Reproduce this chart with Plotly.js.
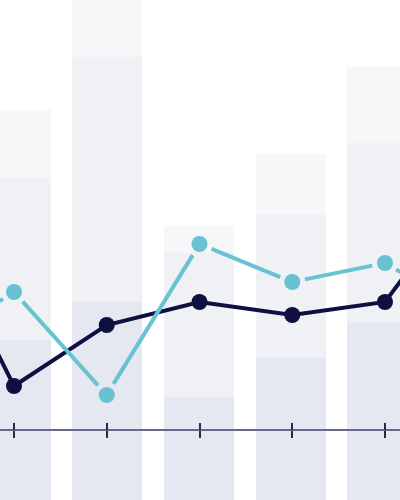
<!DOCTYPE html>
<html>
<head>
<meta charset="utf-8">
<script src="https://cdn.plot.ly/plotly-3.0.1.min.js"></script>
<style>html,body{margin:0;padding:0;background:#fff;}#chart{width:400px;height:500px;}</style>
</head>
<body>
<div id="chart"></div>
<script>
// ---- data ----
const barCats = [0, 1, 2, 3, 4];
const barBottom = [32.0, 39.6, 20.6, 28.4, 35.4];
const barMiddle = [32.4, 49.0, 29.0, 28.8, 36.0];
const barTop = [13.6, 16.0, 5.2, 12.0, 15.2];

const lineCats = [-1, 0, 1, 2, 3, 4, 5];
const darkSeries = [23.0, 4.4, 10.5, 12.8, 11.5, 12.8, 25.2];
const cyanSeries = [8.0, 13.8, 3.5, 18.6, 14.8, 16.7, 11.3];
const tickCats = [0, 1, 2, 3, 4];

// ---- styles ----
const W = 400, H = 500;
const DARK = '#0e1041', CYAN = '#69c2d2';
const C_BOTTOM = '#e5e8f0', C_MID = '#f0f1f5', C_TOP = '#f6f7f8';
const AXIS_COLOR = '#666a8a', TICK_COLOR = '#252858';

// axis ranges
const lineX0 = -14 / 92.75, lineX1 = (W - 14) / 92.75;
const barX0 = -15.8 / 91.6, barX1 = barX0 + W / 91.6;
const lineY = [-7, 43];
const axisPos = 0.14;

// shortened cyan segments (gap around markers), computed via axis scales
const sx = W / (lineX1 - lineX0);
const sy = H / (lineY[1] - lineY[0]);
const GAP = 13;
const segX = [], segY = [];
for (let i = 0; i < lineCats.length - 1; i++) {
  const x0 = lineCats[i], y0 = cyanSeries[i], x1 = lineCats[i + 1], y1 = cyanSeries[i + 1];
  const dxp = (x1 - x0) * sx, dyp = (y1 - y0) * sy;
  const len = Math.sqrt(dxp * dxp + dyp * dyp);
  const f = GAP / len;
  segX.push(x0 + (x1 - x0) * f, x1 - (x1 - x0) * f, null);
  segY.push(y0 + (y1 - y0) * f, y1 - (y1 - y0) * f, null);
}

const traces = [
  {type: 'bar', x: barCats, y: barBottom, marker: {color: C_BOTTOM}, width: 0.764, xaxis: 'x', yaxis: 'y', hoverinfo: 'skip'},
  {type: 'bar', x: barCats, y: barMiddle, marker: {color: C_MID}, width: 0.764, xaxis: 'x', yaxis: 'y', hoverinfo: 'skip'},
  {type: 'bar', x: barCats, y: barTop, marker: {color: C_TOP}, width: 0.764, xaxis: 'x', yaxis: 'y', hoverinfo: 'skip'},
  {type: 'scatter', mode: 'lines+markers', x: lineCats, y: darkSeries, xaxis: 'x2', yaxis: 'y2',
   line: {color: DARK, width: 4}, marker: {color: DARK, size: 16}, cliponaxis: true},
  {type: 'scatter', mode: 'lines', x: segX, y: segY, xaxis: 'x2', yaxis: 'y2',
   line: {color: CYAN, width: 4}, connectgaps: false},
  {type: 'scatter', mode: 'markers', x: lineCats, y: cyanSeries, xaxis: 'x2', yaxis: 'y2',
   marker: {color: CYAN, size: 16}},
  {type: 'scatter', mode: 'markers', x: [], y: [], xaxis: 'x3', yaxis: 'y2', hoverinfo: 'skip'}
];

const layout = {
  width: W, height: H,
  margin: {l: 0, r: 0, t: 0, b: 0, pad: 0},
  paper_bgcolor: '#ffffff', plot_bgcolor: '#ffffff',
  showlegend: false,
  barmode: 'stack',
  xaxis: {range: [barX0, barX1], visible: false, fixedrange: true},
  yaxis: {range: [0, 100], visible: false, fixedrange: true},
  xaxis2: {overlaying: 'x', range: [lineX0, lineX1], anchor: 'free', position: axisPos,
    showline: true, linecolor: AXIS_COLOR, linewidth: 2, showgrid: false, zeroline: false,
    tickmode: 'array', tickvals: tickCats, ticks: 'outside', ticklen: 7, tickwidth: 2,
    tickcolor: TICK_COLOR, showticklabels: false, fixedrange: true},
  xaxis3: {overlaying: 'x', range: [lineX0, lineX1], anchor: 'free', position: axisPos,
    showline: false, showgrid: false, zeroline: false,
    tickmode: 'array', tickvals: tickCats, ticks: 'inside', ticklen: 7, tickwidth: 2,
    tickcolor: TICK_COLOR, showticklabels: false, fixedrange: true},
  yaxis2: {overlaying: 'y', range: lineY, visible: false, fixedrange: true}
};

Plotly.newPlot('chart', traces, layout, {staticPlot: true, displayModeBar: false});
</script>
</body>
</html>
